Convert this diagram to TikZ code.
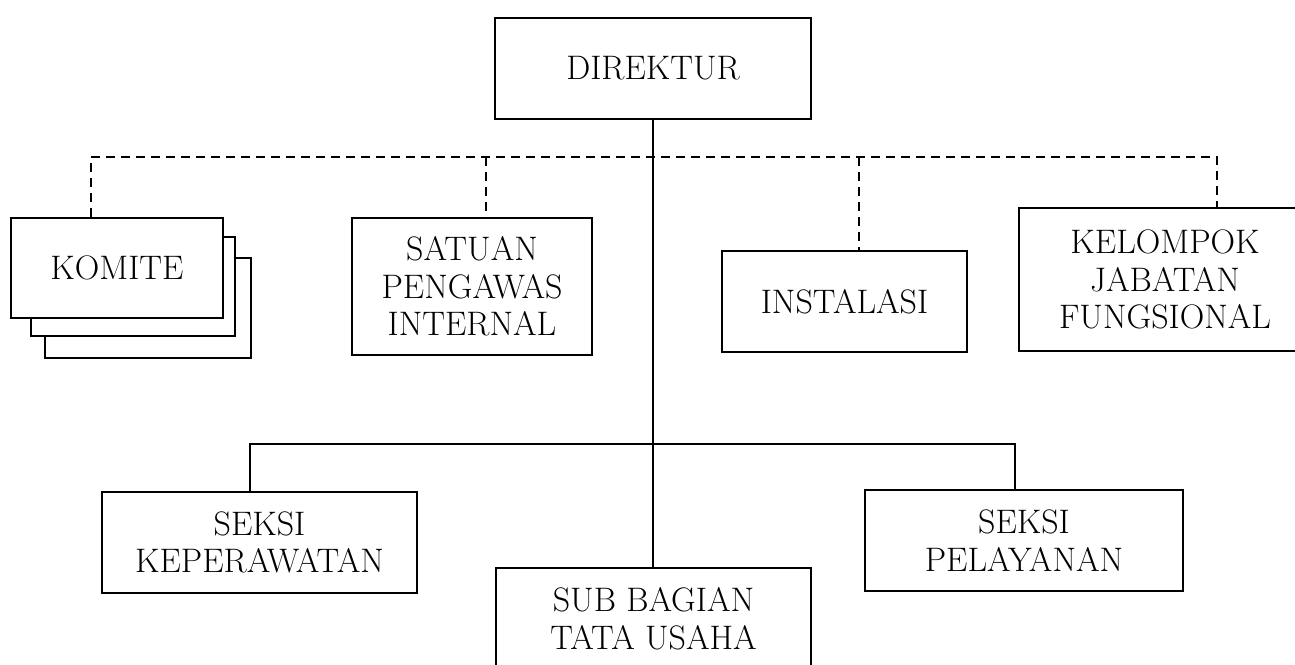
\documentclass[tikz,border=0pt]{standalone}
\usepackage{fontspec}
\begin{document}
\begin{tikzpicture}[x=1pt,y=-1pt,
  box/.style={draw=black,line width=2.5pt,fill=white,align=center,inner sep=0pt,
    font=\fontsize{34}{37.5}\selectfont},
  conn/.style={draw=black,line width=2.2pt},
  dconn/.style={draw=black,line width=2.2pt,dash pattern=on 9pt off 6pt}]
\useasboundingbox (0,0) rectangle (1295,664);
% boxes
\node[box,minimum width=316pt,minimum height=101pt] (dir) at (653,68.5) {DIREKTUR};
\node[box,minimum width=206pt,minimum height=100pt] (kom3) at (148,308) {};
\node[box,minimum width=204pt,minimum height=99pt] (kom2) at (133,286.5) {};
\node[box,minimum width=212pt,minimum height=100pt] (kom) at (117,268) {KOMITE};
\node[box,minimum width=240pt,minimum height=137pt] (spi) at (472,286.5) {SATUAN\\PENGAWAS\\INTERNAL};
\node[box,minimum width=245pt,minimum height=101pt] (ins) at (844.5,301.5) {INSTALASI};
\node[box,minimum width=292pt,minimum height=143pt] (kjf) at (1165,279.5) {KELOMPOK\\JABATAN\\FUNGSIONAL};
\node[box,minimum width=315pt,minimum height=101pt] (kep) at (259.5,542.5) {SEKSI\\KEPERAWATAN};
\node[box,minimum width=318pt,minimum height=101pt] (pel) at (1024,540.5) {SEKSI\\PELAYANAN};
\node[box,minimum width=315pt,minimum height=101pt] (sub) at (653.5,618.5) {SUB BAGIAN\\TATA USAHA};
% bus coordinates
\coordinate (d1) at (91,157);
\coordinate (d2) at (486,157);
\coordinate (d3) at (859,157);
\coordinate (d4) at (1217,157);
\coordinate (s1) at (250,444);
\coordinate (s2) at (1015,444);
% dashed lines
\draw[dconn] (d1 |- kom.north) -- (d1) -- (d4) -- (d4 |- kjf.north);
\draw[dconn] (d2) -- (d2 |- spi.north);
\draw[dconn] (d3) -- (d3 |- ins.north);
% solid lines
\draw[conn] (dir.south) -- (dir.south |- sub.north);
\draw[conn] (s1 |- kep.north) -- (s1) -- (s2) -- (s2 |- pel.north);
\end{tikzpicture}
\end{document}
